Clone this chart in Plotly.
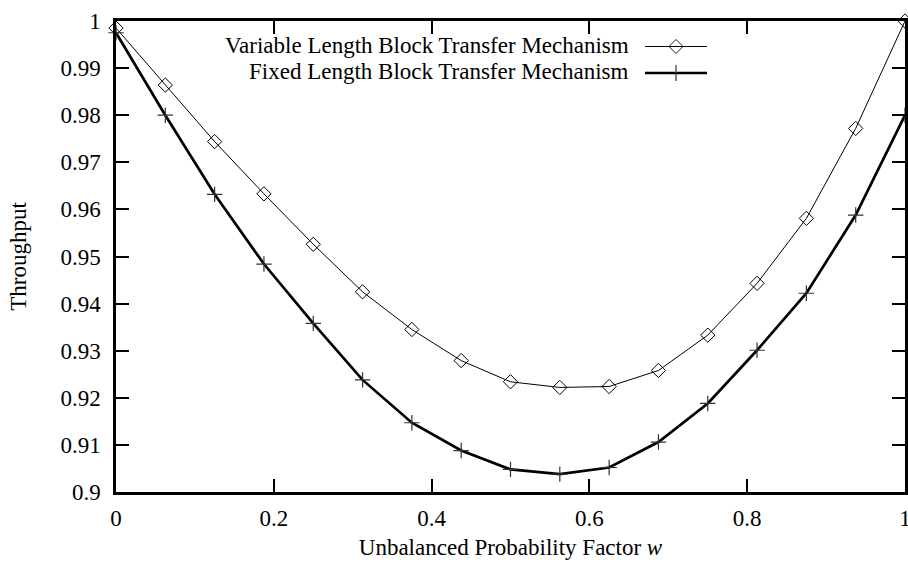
import plotly.graph_objects as go

w = [0, 0.0625, 0.125, 0.1875, 0.25, 0.3125, 0.375, 0.4375, 0.5,
     0.5625, 0.625, 0.6875, 0.75, 0.8125, 0.875, 0.9375, 1.0]
variable = [0.9985, 0.9864, 0.9744, 0.9633, 0.9526, 0.9425, 0.9345, 0.9279, 0.9234,
            0.9222, 0.9224, 0.9258, 0.9333, 0.9443, 0.9581, 0.9772, 1.0]
fixed = [0.9975, 0.9800, 0.9632, 0.9484, 0.9358, 0.9238, 0.9147, 0.9088, 0.9048,
         0.9038, 0.9052, 0.9106, 0.9188, 0.9301, 0.9422, 0.9588, 0.9800]
names = ["Variable Length Block Transfer Mechanism", "Fixed Length Block Transfer Mechanism"]
xticks = [0, 0.2, 0.4, 0.6, 0.8, 1]
xticklabels = ["0", "0.2", "0.4", "0.6", "0.8", "1"]
yticks = [0.9, 0.91, 0.92, 0.93, 0.94, 0.95, 0.96, 0.97, 0.98, 0.99, 1.0]
yticklabels = ["0.9", "0.91", "0.92", "0.93", "0.94", "0.95", "0.96", "0.97", "0.98", "0.99", "1"]

FONT = "Liberation Serif, 'Times New Roman', Times, 'DejaVu Serif', serif"
FS = 23
W, H = 908, 570
L, R, T, B = 116, 3, 21, 78
pw, ph = W - L - R, H - T - B

fig = go.Figure()
fig.add_trace(go.Scatter(
    x=w, y=variable, mode="lines+markers", name=names[0], showlegend=False,
    line=dict(color="black", width=1),
    marker=dict(symbol="diamond-open", size=11, color="black", line=dict(width=1, color="#222")),
    cliponaxis=False))
fig.add_trace(go.Scatter(
    x=w, y=fixed, mode="lines+markers", name=names[1], showlegend=False,
    line=dict(color="black", width=2.7),
    marker=dict(symbol="cross-thin-open", size=11, color="#333", line=dict(width=1.2, color="#333")),
    cliponaxis=False))

def px2paper(px, py):
    return (px - L) / pw, (H - B - py) / ph

shapes = []
annotations = []
rows = [46.5, 73]
for i, py in enumerate(rows):
    x0, y0 = px2paper(645, py)
    x1, _ = px2paper(707, py)
    shapes.append(dict(type="line", xref="paper", yref="paper", x0=x0, x1=x1, y0=y0, y1=y0,
                       line=dict(color="black", width=1 if i == 0 else 2.7)))
    cx = 676
    if i == 0:
        d = 7
        pts = [px2paper(cx, py - d), px2paper(cx + d, py), px2paper(cx, py + d), px2paper(cx - d, py)]
        for a, b in zip(pts, pts[1:] + pts[:1]):
            shapes.append(dict(type="line", xref="paper", yref="paper", x0=a[0], y0=a[1], x1=b[0], y1=b[1],
                               line=dict(color="#222", width=1)))
    else:
        d = 8
        a, b = px2paper(cx, py - d), px2paper(cx, py + d)
        shapes.append(dict(type="line", xref="paper", yref="paper", x0=a[0], y0=a[1], x1=b[0], y1=b[1],
                           line=dict(color="#333", width=1.2)))
    tx, ty = px2paper(631, py - 1)
    annotations.append(dict(text=names[i], xref="paper", yref="paper", x=tx, y=ty,
                            xanchor="right", yanchor="middle", showarrow=False,
                            font=dict(family=FONT, size=FS, color="black")))

axis_common = dict(showline=True, linecolor="black", linewidth=2.5, mirror="allticks",
                   ticks="inside", ticklen=13, tickwidth=2, tickcolor="black",
                   showgrid=False, zeroline=False, automargin=False,
                   ticklabeloverflow="allow",
                   tickfont=dict(family=FONT, size=FS, color="black"))

fig.update_layout(
    width=W, height=H,
    margin=dict(l=L, r=R, t=T, b=B),
    paper_bgcolor="white", plot_bgcolor="white",
    font=dict(family=FONT, size=FS, color="black"),
    xaxis=dict(range=[0, 1], tickvals=xticks, ticktext=xticklabels,
               title=dict(text="Unbalanced Probability Factor <i>w</i>", standoff=9,
                          font=dict(family=FONT, size=FS, color="black")),
               ticklabelstandoff=4, **axis_common),
    yaxis=dict(range=[0.9, 1], tickvals=yticks, ticktext=yticklabels,
               title=dict(text="Throughput", standoff=28,
                          font=dict(family=FONT, size=FS, color="black")),
               ticklabelstandoff=8, **axis_common),
    shapes=shapes, annotations=annotations,
    showlegend=False,
)

fig.write_html("out.html", config={"displayModeBar": False},
               post_script="document.body.style.margin='0';document.body.style.padding='0';")
